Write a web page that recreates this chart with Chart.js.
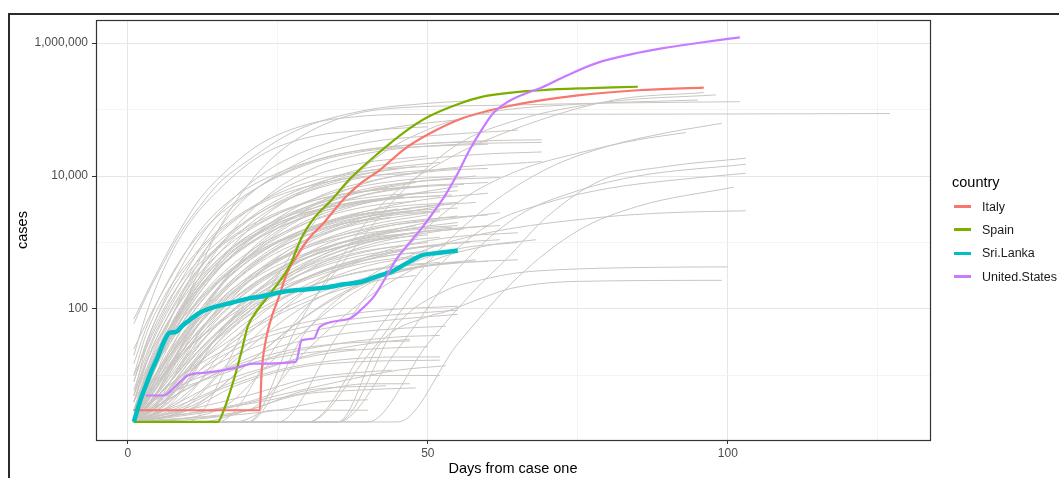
<!DOCTYPE html>
<html>
<head>
<meta charset="utf-8">
<script src="https://cdn.jsdelivr.net/npm/chart.js@4.4.1/dist/chart.umd.min.js"></script>
<style>
  html, body { margin: 0; padding: 0; background: #ffffff; }
  #wrap { position: relative; width: 1059px; height: 478px; overflow: hidden; font-family: "Liberation Sans", Arial, sans-serif; }
  #frame { position: absolute; left: 8px; top: 13px; right: -10px; bottom: -10px; border-top: 2px solid #2b2b2b; border-left: 2px solid #2b2b2b; pointer-events: none; }
  #legend { position: absolute; left: 950px; top: 173px; color: #000; }
  #legend .title { font-size: 14.5px; height: 18px; line-height: 18px; margin-bottom: 4px; margin-left: 2px; }
  #legend .item { display: flex; align-items: center; height: 23.3px; font-size: 12.5px; color: #1a1a1a; }
  #legend .key { width: 17px; height: 3px; margin-left: 4px; margin-right: 11px; }
</style>
</head>
<body>
<div id="wrap">
  <canvas id="c" width="1059" height="478"></canvas>
  <div id="frame"></div>
  <div id="legend"></div>
</div>
<script>
// ---- axis ticks ----
const xTickValues = [0, 25, 50, 75, 100, 125];
const xTickLabels = {0: "0", 50: "50", 100: "100"};
const yTickValues = [10, 100, 1000, 10000, 100000, 1000000];
const yTickLabels = {100: "100", 10000: "10,000", 1000000: "1,000,000"};

// ---- highlighted countries: [day, cases] ----
const countryNames = ["Italy", "Spain", "Sri.Lanka", "United.States"];
const countryColors = ["#F8766D", "#7CAE00", "#00BFC4", "#C77CFF"];
const italy = [[1,3],[22,3],[22.3,11],[23,34],[24,77],[25,136],[26.6,360],[28,590],[30,1100],[32.6,1950],[36,4500],[39,8000],[42,12300],[46,25000],[50,42000],[56,75000],[64,115000],[75,163000],[85,195000],[96,214000]];
const spain = [[1,2],[15,2],[16,3],[17,5.5],[18,11],[19,24],[20,55],[21,80],[23,140],[25,240],[27,450],[29,1200],[31,2300],[34,4400],[37,9000],[42,23000],[46,45000],[50,77000],[55,120000],[59,155000],[69,195000],[77,210000],[85,220000]];
const sriLanka = [[1,2],[2,4],[3,7],[4,12],[5,19],[6,32],[7,44],[8,45],[9,55],[10,65],[12,88],[14,104],[17,122],[20,143],[22,153],[26,182],[29,195],[33,210],[36,235],[39,257],[42,320],[44,365],[47,520],[49,640],[52,700],[55,760]];
const unitedStates = [[3,5],[6,5],[8,7],[10,10],[13,11],[18,13],[21,15],[28,16],[29,34],[31,36],[32,54],[37,72],[39,100],[41,153],[43,300],[45,600],[47,1000],[49,1650],[51,2900],[53,5300],[55,11000],[57,25000],[59,50000],[61,90000],[63,125000],[66,170000],[69,215000],[73,320000],[78,495000],[84,680000],[89,830000],[95,1000000],[102,1220000]];

// ---- other countries (grey): [day, cases] ----
const gA1 = [[1,60],[3,150],[6,500],[9,1500],[12,3500],[15,7500],[20,17000],[28,48000],[39,95000],[50,124000],[57,135000]];
const gA2 = [[1,70],[4,250],[8,1200],[12,4500],[16,11000],[22,30000],[30,60000],[38,78000],[45,84000],[80,85000],[127,87000]];
const gA3 = [[1,2],[2,5],[6,40],[10,250],[15,1500],[20,5000],[30,18000],[40,32000],[50,40000],[65,49000]];
const gA4 = [[1,2],[5,20],[10,150],[15,800],[22,4000],[30,12000],[40,22000],[55,30000],[69,32000]];
const gA5 = [[1,3],[6,25],[12,200],[18,1000],[25,3500],[35,10000],[45,16000],[58,21000],[69,23000]];
const gA6 = [[1,2],[7,20],[14,150],[20,700],[28,2500],[38,7000],[50,12000],[69,16500]];
const gA7 = [[1,8],[4,50],[8,300],[12,1200],[18,5000],[25,15000],[35,35000],[45,55000],[55,70000]];
const gA8 = [[1,20],[3,80],[6,400],[10,1800],[15,6000],[22,20000],[30,38000],[42,50000],[50,55000]];
const gA9 = [[1,25],[4,90],[8,400],[12,1500],[18,5000],[26,12000],[36,22000],[48,30000],[60,33000]];
const gA10 = [[1,10],[5,60],[10,400],[15,2000],[22,7000],[32,18000],[45,28000],[60,34000],[69,35000]];

const gC1 = [[1,2],[20,2],[28,50],[35,500],[42,3500],[53,17400],[64,49000],[81,139000],[96,180000]];
const gC2 = [[1,2],[15,2],[25,30],[35,400],[45,5000],[55,30000],[65,70000],[80,130000],[98,166000]];
const gC3 = [[1,3],[8,60],[15,1500],[22,12000],[30,45000],[42,100000],[60,115000],[80,125000],[102,131000]];
const gC5 = [[1,2],[30,2],[40,30],[50,500],[60,3500],[70,13000],[80,28000],[90,45000],[99,62000]];
const gC6 = [[1,2],[25,2],[35,40],[45,600],[55,4000],[65,12000],[75,22000],[85,35000],[93,45000]];
const gC7 = [[1,2],[40,2],[50,30],[58,200],[63,550],[70,2500],[79,8700],[90,14000],[103,18500]];
const gC8 = [[1,2],[35,2],[45,25],[55,400],[65,2500],[75,6000],[85,10000],[103,15000]];
const gC9 = [[1,2],[30,2],[40,20],[50,300],[60,1800],[70,4000],[80,6500],[90,8500],[103,11000]];
const gC10 = [[1,2],[45,2],[55,30],[65,300],[75,1500],[85,3500],[101,6800]];
const gC11 = [[1,2],[20,2],[30,50],[40,300],[50,800],[60,1400],[79,2400],[90,2800],[103,3000]];
const gC12 = [[1,2],[35,2],[45,60],[53,190],[59,275],[65,350],[72,390],[85,420],[100,430]];
const gC13 = [[1,2],[35,2],[42,30],[50,77],[53,91],[59,146],[64,205],[75,260],[99,270]];
const gC14 = [[1,2],[10,2],[20,60],[30,1500],[40,15000],[50,50000],[60,90000],[75,120000],[95,139000]];

const gB1 = [[1,2],[5,10],[10,50],[20,400],[30,1500],[40,3000],[50,4500],[60,5500]];
const gB2 = [[1,2],[4,5],[10,30],[20,250],[30,1000],[40,2200],[52,3500]];
const gB3 = [[1,3],[5,20],[10,90],[20,600],[30,2000],[40,4000],[55,7000]];
const gB4 = [[1,2],[6,8],[12,60],[20,300],[30,900],[40,1800],[50,2600]];
const gB5 = [[1,2],[4,12],[8,60],[15,400],[25,1800],[35,4500],[45,7500],[58,10000]];
const gB6 = [[1,2],[5,4],[10,15],[20,120],[30,500],[40,1200],[50,2000],[62,2800]];
const gB7 = [[1,4],[4,25],[8,120],[14,700],[22,3000],[30,7000],[40,12000],[52,16000]];
const gB8 = [[1,2],[7,10],[14,80],[22,400],[32,1300],[42,2500],[50,3200]];
const gB9 = [[1,2],[3,6],[7,40],[12,200],[20,900],[30,2500],[45,5000],[55,6000]];
const gB10 = [[1,2],[6,6],[12,30],[20,150],[30,600],[40,1300],[48,1800]];
const gB11 = [[1,2],[8,10],[15,60],[25,300],[35,800],[45,1500],[55,2000]];
const gB12 = [[1,5],[4,30],[8,150],[13,800],[20,3000],[28,8000],[38,15000],[50,20000]];
const gB13 = [[1,2],[5,3],[10,10],[18,60],[28,300],[38,800],[50,1400],[60,1800]];
const gB14 = [[1,3],[6,15],[12,70],[20,300],[30,900],[42,1700],[52,2200]];
const gB15 = [[1,2],[4,8],[9,40],[16,250],[25,1000],[35,2200],[45,3200]];
const gB16 = [[1,2],[5,6],[10,40],[16,200],[24,800],[34,2000],[44,3000],[54,3800]];
const gB17 = [[1,2],[6,4],[12,20],[20,90],[30,300],[40,600],[50,900],[57,1000]];
const gB18 = [[1,3],[3,10],[7,50],[12,250],[18,900],[26,2500],[36,5000],[48,8000]];
const gB19 = [[1,2],[5,8],[10,25],[18,100],[28,350],[38,700],[46,900]];
const gB20 = [[1,2],[9,6],[15,40],[22,200],[30,700],[40,1500],[50,2200],[60,2600]];
const gB21 = [[1,2],[3,4],[6,20],[10,80],[16,300],[24,900],[34,1800],[44,2400]];
const gB22 = [[1,2],[5,5],[10,12],[20,50],[30,150],[40,300],[50,450],[55,500]];
const gB23 = [[1,3],[4,20],[8,100],[12,400],[18,1500],[25,4000],[35,9000],[45,13000]];
const gB24 = [[1,2],[6,10],[11,50],[18,200],[26,600],[36,1200],[45,1600]];
const gB25 = [[1,2],[4,3],[9,15],[16,70],[24,250],[34,600],[44,1000],[52,1200]];
const gB26 = [[1,2],[3,8],[7,30],[12,150],[20,700],[30,2000],[40,3500],[48,4200]];
const gB27 = [[1,2],[8,12],[14,80],[22,350],[32,1000],[42,1800],[55,2500]];
const gB28 = [[1,2],[6,5],[12,25],[20,100],[30,280],[40,500],[50,650]];
const gB29 = [[1,4],[3,15],[6,60],[10,250],[15,800],[22,2000],[30,4000],[40,6000],[50,7000]];
const gB30 = [[1,2],[5,3],[10,10],[17,40],[25,130],[35,300],[45,450],[52,500]];
const gB31 = [[1,2],[4,6],[8,25],[14,120],[22,500],[32,1300],[42,2200],[50,2800]];
const gB32 = [[1,2],[8,8],[14,35],[22,150],[32,450],[42,800],[50,1000]];
const gB33 = [[1,4],[5,20],[9,90],[14,350],[20,1100],[28,2800],[38,5500],[47,7000]];
const gB34 = [[1,2],[5,10],[10,70],[16,300],[24,1100],[33,2800],[43,4500]];
const gB35 = [[1,2],[10,5],[16,25],[24,110],[34,350],[44,700],[55,1000],[62,1100]];
const gB36 = [[1,3],[7,15],[14,50],[22,150],[32,350],[42,600],[50,750]];
const gB37 = [[1,2],[3,6],[6,30],[10,130],[16,500],[24,1500],[34,3200],[44,4500],[54,5200]];
const gB38 = [[1,2],[6,3],[12,12],[20,45],[30,130],[40,250],[48,320]];
const gB39 = [[1,2],[3,3],[7,12],[12,50],[20,200],[30,600],[40,1100],[50,1500]];
const gB40 = [[1,5],[3,25],[6,100],[10,350],[16,1200],[24,3500],[34,7500],[44,11000],[55,13000]];
const gB41 = [[1,2],[8,4],[15,15],[22,60],[30,200],[40,450],[48,600]];
const gB42 = [[1,2],[7,4],[13,20],[20,80],[28,250],[38,550],[46,750]];
const gB43 = [[1,3],[5,8],[10,30],[18,150],[26,450],[36,1000],[46,1500],[54,1700]];
const gB44 = [[1,2],[2,5],[5,25],[9,100],[14,400],[20,1100],[28,2500],[38,4000],[46,4800]];
const gB45 = [[1,2],[6,7],[12,35],[18,130],[26,400],[36,900],[46,1300]];
const gB46 = [[1,2],[4,10],[8,50],[14,300],[22,1500],[32,5000],[42,9000],[52,12000],[60,13000]];
const gB47 = [[1,3],[4,15],[8,80],[13,400],[20,1800],[28,5000],[38,10000],[48,14000]];
const gB48 = [[1,2],[5,7],[10,35],[16,180],[24,700],[34,1800],[44,2800],[55,3300]];
const gB49 = [[1,2],[3,5],[7,25],[12,120],[19,500],[28,1400],[38,2600],[47,3200]];
const gB50 = [[1,6],[3,20],[6,80],[10,300],[16,1000],[24,2600],[34,5000],[44,6500]];
const gB51 = [[1,2],[7,5],[13,25],[20,110],[28,380],[38,900],[48,1400],[56,1600]];
const gB52 = [[1,2],[4,4],[8,15],[14,70],[22,280],[32,700],[42,1100],[50,1300]];
const gB53 = [[1,10],[3,40],[6,150],[10,500],[15,1500],[22,4000],[30,8000],[40,12000],[50,14000]];
const gB54 = [[1,2],[6,10],[11,60],[17,350],[25,1500],[35,4000],[45,6500],[60,8000]];
const gB55 = [[1,3],[4,12],[8,45],[13,180],[20,600],[30,1500],[40,2500],[52,3000]];
const gB56 = [[1,2],[5,5],[11,20],[18,80],[26,250],[36,550],[46,800],[53,900]];
const gB57 = [[1,2],[3,8],[6,35],[10,150],[15,550],[22,1600],[32,3500],[42,5000],[50,5600]];
const gB58 = [[1,4],[3,12],[7,50],[12,220],[18,800],[26,2000],[36,3800],[46,5000]];
const gB59 = [[1,2],[8,6],[14,30],[22,140],[30,450],[40,1000],[50,1500],[62,1800]];
const gB60 = [[1,2],[4,7],[9,35],[15,170],[23,650],[33,1600],[43,2500],[52,2900]];
const gB61 = [[1,15],[3,50],[6,200],[10,800],[15,2500],[22,7000],[30,15000],[40,24000],[50,28000],[60,30000]];
const gB62 = [[1,2],[6,12],[12,80],[18,400],[26,1600],[36,4200],[46,6500],[56,7500]];
const gB63 = [[1,5],[3,15],[6,50],[10,180],[16,650],[24,1800],[34,3500],[44,4600],[52,5000]];
const gB64 = [[1,2],[10,4],[18,20],[26,100],[34,350],[44,800],[54,1200],[65,1400]];
const gB65 = [[1,2],[5,4],[10,12],[16,45],[24,160],[34,400],[44,650],[50,700]];
const gB66 = [[1,3],[5,12],[10,55],[16,260],[24,900],[34,2200],[44,3400],[55,4000]];
const gB67 = [[1,2],[3,4],[7,15],[12,60],[19,220],[28,600],[38,1100],[48,1400]];
const gB68 = [[1,2],[7,8],[13,50],[20,250],[28,900],[38,2200],[48,3400],[58,4000]];
const gB69 = [[1,8],[3,30],[6,120],[10,450],[15,1400],[22,3800],[30,7000],[40,10000],[48,11000]];
const gB70 = [[1,2],[4,3],[8,8],[14,30],[22,100],[32,250],[42,400],[50,480]];
const gB71 = [[1,2],[12,4],[20,15],[28,60],[36,180],[46,380],[56,500],[65,550]];
const gB72 = [[1,2],[5,15],[9,70],[14,300],[21,1200],[30,3500],[40,6500],[50,8500],[62,9500]];
const gB73 = [[1,3],[6,10],[12,40],[19,160],[27,500],[37,1100],[47,1600],[55,1800]];
const gB74 = [[1,2],[3,10],[6,45],[10,200],[16,800],[24,2400],[34,5500],[45,8500],[55,10000]];
const gB75 = [[1,2],[9,3],[16,12],[24,50],[32,150],[42,330],[52,480],[60,520]];
const gB76 = [[1,2],[15,3],[25,20],[35,120],[45,400],[55,800],[65,1000]];
const gB77 = [[1,2],[20,3],[30,25],[40,150],[50,500],[60,900],[68,1100]];
const gB78 = [[1,2],[10,3],[20,15],[30,80],[40,250],[50,450],[58,550]];

const gD1 = [[1,2],[8,3],[15,6],[25,12],[35,17],[45,19],[52,19]];
const gD2 = [[1,2],[10,3],[18,7],[28,13],[38,16],[52,17]];
const gD3 = [[1,2],[20,4],[30,8],[40,10],[52,10]];
const gD4 = [[1,2],[22,4],[32,6],[40,7.5],[47,7.5]];
const gD5 = [[1,2],[20,3],[30,6],[43,7]];
const gD6 = [[1,2],[25,3],[32,4],[40,4.3]];
const gD7 = [[1,2],[18,2],[24,3],[40,3]];
const gD8 = [[1,2],[32,2]];
const gD9 = [[1,3],[8,6],[15,10],[25,20],[35,30],[45,38],[52,40]];
const gD10 = [[1,2],[8,5],[16,12],[25,22],[35,30],[47,33]];
const gD11 = [[1,2],[6,4],[14,10],[24,25],[34,40],[44,50],[53,55]];
const gD12 = [[1,2],[20,5],[30,9],[38,11],[44,12]];
const gD13 = [[1,2],[6,4],[12,12],[20,30],[30,55],[40,75],[55,96]];
const gD14 = [[1,2],[8,6],[15,15],[25,35],[35,55],[45,70],[55,83]];
const gD15 = [[1,2],[10,4],[20,10],[30,20],[40,30],[47,35]];
const gD16 = [[1,2],[6,3],[14,7],[24,14],[34,22],[44,26],[50,27]];
const gD17 = [[1,2],[15,3],[25,5],[35,8],[45,12],[53,14]];
const gD18 = [[1,2],[5,5],[12,15],[22,40],[32,70],[42,95],[55,110]];
const gD19 = [[1,2],[12,2],[20,3],[28,5],[38,6],[48,6.5]];
const gD20 = [[1,2],[4,4],[10,8],[20,15],[30,22],[38,25]];

const greyLines = [gA1,gA2,gA3,gA4,gA5,gA6,gA7,gA8,gA9,gA10,
  gC1,gC2,gC3,gC5,gC6,gC7,gC8,gC9,gC10,gC11,gC12,gC13,gC14,
  gB1,gB2,gB3,gB4,gB5,gB6,gB7,gB8,gB9,gB10,gB11,gB12,gB13,gB14,gB15,gB16,gB17,gB18,gB19,gB20,
  gB21,gB22,gB23,gB24,gB25,gB26,gB27,gB28,gB29,gB30,gB31,gB32,gB33,gB34,gB35,gB36,gB37,gB38,gB39,gB40,
  gB41,gB42,gB43,gB44,gB45,gB46,gB47,gB48,gB49,gB50,gB51,gB52,gB53,gB54,gB55,gB56,gB57,gB58,gB59,gB60,
  gB61,gB62,gB63,gB64,gB65,gB66,gB67,gB68,gB69,gB70,gB71,gB72,gB73,gB74,gB75,gB76,gB77,gB78,
  gD1,gD2,gD3,gD4,gD5,gD6,gD7,gD8,gD9,gD10,gD11,gD12,gD13,gD14,gD15,gD16,gD17,gD18,gD19,gD20];

// ---- build datasets ----
const toXY = arr => arr.map(p => ({x: p[0], y: p[1]}));
const datasets = [];
greyLines.forEach((g, i) => {
  datasets.push({
    label: "other" + i, data: toXY(g), showLine: true,
    borderColor: "#c9c5c1", borderWidth: 1, pointRadius: 0,
    cubicInterpolationMode: "monotone", order: 10
  });
});
const highlight = [italy, spain, sriLanka, unitedStates];
const widths = [2.2, 2.2, 4.5, 2.2];
const orders = [4, 3, 2, 1];
highlight.forEach((h, i) => {
  datasets.push({
    label: countryNames[i], data: toXY(h), showLine: true,
    borderColor: countryColors[i], borderWidth: widths[i], pointRadius: 0,
    cubicInterpolationMode: "monotone", order: orders[i]
  });
});

// ---- legend (HTML) ----
const legendEl = document.getElementById("legend");
legendEl.innerHTML = '<div class="title">country</div>' + countryNames.map((n, i) =>
  '<div class="item"><span class="key" style="background:' + countryColors[i] + '"></span>' + n + '</div>').join("");

const panelBorder = {
  id: "panelBorder",
  afterDraw(chart) {
    const a = chart.chartArea, ctx = chart.ctx;
    ctx.save();
    ctx.strokeStyle = "#333333";
    ctx.lineWidth = 1.2;
    ctx.strokeRect(Math.round(a.left) + 0.5, Math.round(a.top) + 0.5, Math.round(a.right - a.left), Math.round(a.bottom - a.top));
    ctx.restore();
  }
};

const tickFont = {family: "'Liberation Sans', Arial, sans-serif", size: 12};
const titleFont = {family: "'Liberation Sans', Arial, sans-serif", size: 14.5};

new Chart(document.getElementById("c"), {
  type: "scatter",
  data: {datasets},
  plugins: [panelBorder],
  options: {
    responsive: false,
    animation: false,
    events: [],
    layout: {padding: {left: 0, right: 129, top: 20, bottom: 0}},
    plugins: {legend: {display: false}, tooltip: {enabled: false}},
    scales: {
      x: {
        type: "linear", min: -5.3, max: 133.7,
        afterBuildTicks: s => { s.ticks = xTickValues.map(v => ({value: v})); },
        afterFit: s => { s.height = 38; },
        ticks: {
          autoSkip: false, maxRotation: 0, padding: 2, color: "#4d4d4d", font: tickFont,
          callback: v => (xTickLabels[v] !== undefined ? xTickLabels[v] : "")
        },
        grid: {
          color: c => (c.tick && xTickLabels[c.tick.value] !== undefined ? "#e6e6ea" : "#f1f1f3"),
          lineWidth: c => (c.tick && xTickLabels[c.tick.value] !== undefined ? 1 : 0.8),
          tickColor: c => (c.tick && xTickLabels[c.tick.value] !== undefined ? "#333333" : "rgba(0,0,0,0)"),
          tickLength: 4, tickWidth: 1
        },
        border: {display: false},
        title: {display: true, text: "Days from case one", color: "#000", font: titleFont, padding: {top: 0, bottom: 0}}
      },
      y: {
        type: "logarithmic", min: 1.07, max: 2.22e6,
        afterBuildTicks: s => { s.ticks = yTickValues.map(v => ({value: v})); },
        afterFit: s => { s.width = 96; },
        ticks: {
          autoSkip: false, padding: 4, color: "#4d4d4d", font: tickFont,
          callback: v => (yTickLabels[v] !== undefined ? yTickLabels[v] : "")
        },
        grid: {
          color: c => (c.tick && yTickLabels[c.tick.value] !== undefined ? "#e6e6ea" : "#f1f1f3"),
          lineWidth: c => (c.tick && yTickLabels[c.tick.value] !== undefined ? 1 : 0.8),
          tickColor: c => (c.tick && yTickLabels[c.tick.value] !== undefined ? "#333333" : "rgba(0,0,0,0)"),
          tickLength: 4, tickWidth: 1
        },
        border: {display: false},
        title: {display: true, text: "cases", color: "#000", font: titleFont, padding: {top: 14, bottom: 0}}
      }
    }
  }
});
</script>
</body>
</html>
